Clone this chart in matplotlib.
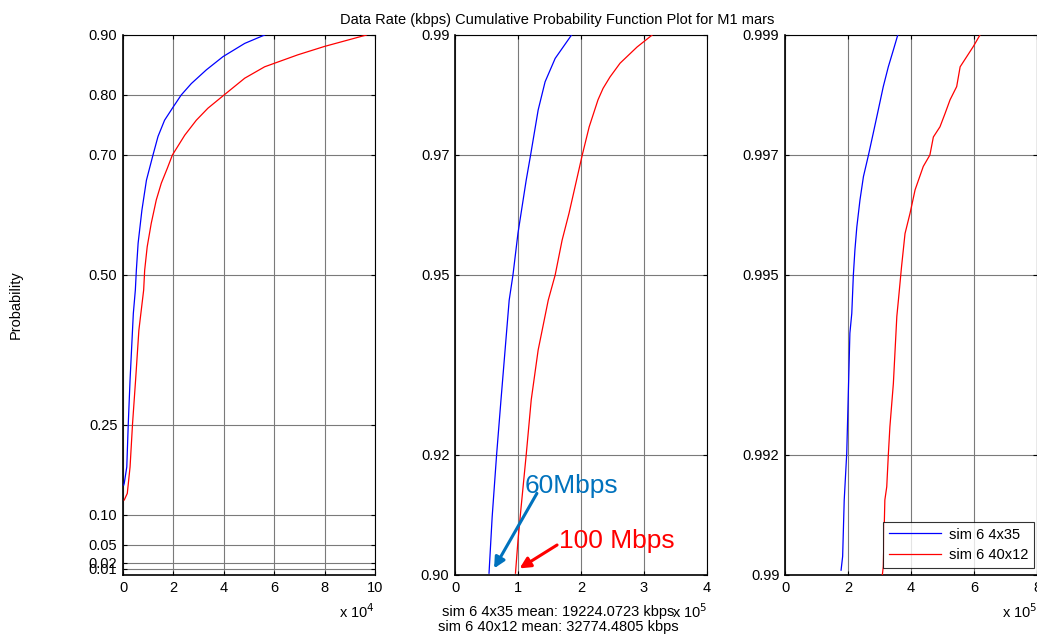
import matplotlib
matplotlib.use("Agg")
import matplotlib.pyplot as plt
from matplotlib.patches import Rectangle
from matplotlib.ticker import FuncFormatter, FixedLocator

plt.rcParams['font.family'] = ['Liberation Sans', 'DejaVu Sans']

# ---- data (rates in kbps, cumulative probability) ----
series_names = ["sim 6 4x35", "sim 6 40x12"]

# panel 1: probability 0 .. 0.90
low_p_4x35 = [0.150, 0.153, 0.18, 0.253, 0.325, 0.436, 0.475, 0.508, 0.553, 0.608,
              0.658, 0.70, 0.731, 0.758, 0.778, 0.80, 0.819, 0.842, 0.864, 0.886, 0.90]
low_rate_4x35 = [300, 500, 1500, 2100, 2800, 4100, 4900, 5300, 6000, 7500,
                 9300, 11900, 13900, 16500, 19600, 23100, 27100, 33100, 39700, 48300, 56200]
low_p_40x12 = [0.125, 0.136, 0.18, 0.253, 0.325, 0.408, 0.475, 0.508, 0.547, 0.586,
               0.625, 0.653, 0.678, 0.70, 0.733, 0.758, 0.778, 0.80, 0.828, 0.847,
               0.867, 0.881, 0.90]
low_rate_40x12 = [500, 1700, 2800, 3800, 5000, 6300, 8200, 8600, 9600, 11200,
                  13200, 15200, 17600, 19600, 24500, 29100, 33700, 40100, 48300, 56200,
                  69400, 80000, 96600]

# panel 2: probability 0.90 .. 0.99
mid_p_4x35 = [0.9003, 0.9097, 0.92, 0.9292, 0.9458, 0.95, 0.957, 0.9658, 0.97,
              0.9775, 0.9822, 0.9861, 0.99]
mid_rate_4x35 = [54000, 59000, 66000, 73000, 86000, 92000, 100000, 113000, 120000,
                 132000, 143000, 159000, 185000]
mid_p_40x12 = [0.9003, 0.9058, 0.9114, 0.92, 0.9292, 0.9375, 0.9458, 0.95, 0.9558,
               0.9603, 0.97, 0.9747, 0.9792, 0.9811, 0.983, 0.9853, 0.988, 0.99]
mid_rate_40x12 = [96000, 100000, 105000, 113000, 121000, 132000, 148000, 159000,
                  170000, 181000, 202000, 213000, 227000, 235000, 246000, 262000,
                  289000, 313000]

# panel 3: probability 0.99 .. 0.999
high_p_4x35 = [0.99008, 0.99031, 0.99125, 0.99203, 0.99303, 0.99403, 0.99436, 0.995,
               0.99542, 0.9958, 0.99625, 0.99664, 0.9970, 0.99736, 0.99770, 0.99814,
               0.99847, 0.99875, 0.999]
high_rate_4x35 = [178000, 183000, 188000, 196000, 201000, 206000, 212000, 217000,
                  222000, 228000, 238000, 249000, 265000, 280000, 294000, 312000,
                  328000, 344000, 358000]
high_p_40x12 = [0.99, 0.99014, 0.99125, 0.99147, 0.992, 0.99247, 0.99319, 0.99431,
                0.99458, 0.99514, 0.99569, 0.99603, 0.99642, 0.99681, 0.9970, 0.9973,
                0.99747, 0.99769, 0.99792, 0.99814, 0.99847, 0.99864, 0.99881, 0.999]
high_rate_40x12 = [309000, 312000, 317000, 323000, 328000, 333000, 344000, 355000,
                   360000, 370000, 381000, 397000, 413000, 439000, 460000, 471000,
                   492000, 508000, 524000, 545000, 556000, 577000, 598000, 619000]

low_yticks = [0.01, 0.02, 0.05, 0.10, 0.25, 0.50, 0.70, 0.80, 0.90]
mid_yticks = [0.90, 0.92, 0.95, 0.97, 0.99]
high_yticks = [0.99, 0.992, 0.995, 0.997, 0.999]
low_ytick_labels = ["0.01", "0.02", "0.05", "0.10", "0.25", "0.50", "0.70", "0.80", "0.90"]
mid_ytick_labels = ["0.90", "0.92", "0.95", "0.97", "0.99"]
high_ytick_labels = ["0.99", "0.992", "0.995", "0.997", "0.999"]

mean_4x35 = 19224.0723
mean_40x12 = 32774.4805

colors = ["#0000ff", "#ff0000"]
grid_color = "#7a7a7a"
FS = 10.5

W, H = 1037, 635
fig = plt.figure(figsize=(W / 100, H / 100), dpi=100)


def px_axes(x0, x1, y0, y1):
    return fig.add_axes([x0 / W, 1 - y1 / H, (x1 - x0) / W, (y1 - y0) / H])


panels = [
    (px_axes(123, 375, 35, 575), (0, 1e5), 2e4, 1e4, "4", (0, 0.90), low_yticks, low_ytick_labels,
     [(low_rate_4x35, low_p_4x35), (low_rate_40x12, low_p_40x12)]),
    (px_axes(455, 707, 35, 575), (0, 4e5), 1e5, 1e5, "5", (0.90, 0.99), mid_yticks, mid_ytick_labels,
     [(mid_rate_4x35, mid_p_4x35), (mid_rate_40x12, mid_p_40x12)]),
    (px_axes(785, 1037, 35, 575), (0, 8e5), 2e5, 1e5, "5", (0.99, 0.999), high_yticks, high_ytick_labels,
     [(high_rate_4x35, high_p_4x35), (high_rate_40x12, high_p_40x12)]),
]

axes = []
for ax, xlim, xstep, scale, expo, ylim, yt, ytl, curves in panels:
    lines = []
    for (xs, ps), c, name in zip(curves, colors, series_names):
        ln, = ax.plot(xs, ps, color=c, lw=0.9, label=name, zorder=3)
        lines.append(ln)
    ax.set_xlim(*xlim)
    ax.set_ylim(*ylim)
    n = int(round((xlim[1] - xlim[0]) / xstep))
    ax.xaxis.set_major_locator(FixedLocator([xlim[0] + i * xstep for i in range(n + 1)]))
    ax.xaxis.set_major_formatter(FuncFormatter(lambda v, pos, s=scale: "%g" % round(v / s, 6)))
    ax.set_yticks(yt)
    ax.set_yticklabels(ytl)
    ax.grid(True, color=grid_color, lw=0.8, zorder=1)
    ax.tick_params(direction="in", length=3, width=0.8, top=True, right=True,
                   labelsize=FS, pad=4, colors="black")
    for name, s in ax.spines.items():
        s.set_color("black")
        s.set_linewidth(1.2 if name in ("left", "bottom") else 0.8)
    ax.text(1.0, -0.05, r"x 10$^{%s}$" % expo, transform=ax.transAxes,
            ha="right", va="top", fontsize=FS)
    axes.append((ax, lines))

ax1, _ = axes[0]
ax2, _ = axes[1]
ax3, lines3 = axes[2]

ax1.set_ylabel("Probability", fontsize=FS)
ax1.yaxis.set_label_coords((23 - 123) / 252, 0.5)

fig.text(557 / W, 1 - 20 / H, "Data Rate (kbps) Cumulative Probability Function Plot for M1 mars",
         ha="center", va="center", fontsize=FS)

fig.text(558 / W, 1 - 612 / H, "%s mean: %.4f kbps" % (series_names[0], mean_4x35),
         ha="center", va="center", fontsize=FS)
fig.text(558 / W, 1 - 627 / H, "%s mean: %.4f kbps" % (series_names[1], mean_40x12),
         ha="center", va="center", fontsize=FS)

# callouts on the middle panel
blue_note = "#0072bd"
ax2.annotate("", xy=(0.62e5, 0.9011), xytext=(1.30e5, 0.9136),
             arrowprops=dict(arrowstyle="-|>", color=blue_note, lw=2.2, mutation_scale=16,
                             shrinkA=0, shrinkB=0), zorder=5)
ax2.annotate("", xy=(1.025e5, 0.9011), xytext=(1.62e5, 0.905),
             arrowprops=dict(arrowstyle="-|>", color="#ff0000", lw=2.2, mutation_scale=16,
                             shrinkA=0, shrinkB=0), zorder=5)
t1 = ax2.text(1.10e5, 0.91367, "60Mbps", color=blue_note, fontsize=19,
              ha="left", va="baseline", zorder=6)
t1.set_clip_path(Rectangle((0, 0.9138), 4e5, 0.1, transform=ax2.transData))
t2 = ax2.text(1.647e5, 0.9045, "100 Mbps", color="#ff0000", fontsize=19,
              ha="left", va="baseline", zorder=6)
t2.set_clip_path(Rectangle((0, 0.90455), 4e5, 0.1, transform=ax2.transData))

leg = ax3.legend(handles=lines3, loc="lower right", bbox_to_anchor=(0.988, 0.013),
                 borderaxespad=0, fontsize=FS, frameon=True, fancybox=False,
                 edgecolor="black", handlelength=3.6, borderpad=0.4, labelspacing=0.45,
                 handletextpad=0.5)
leg.get_frame().set_linewidth(0.8)

fig.savefig("out.png", dpi=100)
